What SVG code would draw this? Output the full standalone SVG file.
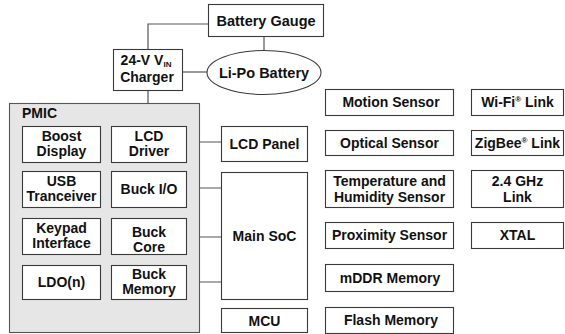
<svg xmlns="http://www.w3.org/2000/svg" width="565" height="334" viewBox="0 0 565 334">
<style>
.b{fill:#fff;stroke:#3a3a3a;stroke-width:1.1}
.p{fill:#e6e6e6;stroke:#555;stroke-width:1.1}
.c{fill:none;stroke:#555;stroke-width:1.2}
text{font-family:"Liberation Sans",Arial,sans-serif;font-weight:bold;font-size:14px;fill:#111;text-anchor:middle}
.sup{font-size:8px}
.sub{font-size:8px}
</style>
<rect width="565" height="334" fill="#fff"/>
<g id="connectors">
<polyline class="c" points="208,24 148,24 148,49"/>
<line class="c" x1="264" y1="36" x2="264" y2="50"/>
<line class="c" x1="182" y1="72" x2="207" y2="72"/>
<line class="c" x1="148" y1="90" x2="148" y2="103"/>
<line class="c" x1="186" y1="142" x2="221" y2="142"/>
<line class="c" x1="186" y1="188" x2="221" y2="188"/>
<line class="c" x1="186" y1="237" x2="221" y2="237"/>
<line class="c" x1="186" y1="282" x2="221" y2="282"/>
</g>
<g id="battery-gauge"><rect class="b" x="208.5" y="4.5" width="115" height="32"/><text x="266" y="25.5" style="font-size:14.5px">Battery Gauge</text></g>
<g id="charger"><rect class="b" x="113.5" y="49.5" width="69" height="41"/><text x="146" y="65">24-V V<tspan class="sub" dy="1.5">IN</tspan></text><text x="147" y="82">Charger</text></g>
<g id="li-po-battery"><ellipse class="b" cx="264" cy="72.5" rx="57" ry="22"/><text x="264" y="77.5" style="font-size:14.5px">Li-Po Battery</text></g>
<g id="pmic"><rect class="p" x="9.5" y="103.5" width="190" height="229"/><text x="22" y="118" style="text-anchor:start">PMIC</text>
<g id="boost-display"><rect class="b" x="22.5" y="126.5" width="78" height="36"/><text x="61.5" y="141">Boost</text><text x="61.5" y="156">Display</text></g>
<g id="lcd-driver"><rect class="b" x="111.5" y="126.5" width="75" height="36"/><text x="149" y="141">LCD</text><text x="149" y="156">Driver</text></g>
<g id="usb-tranceiver"><rect class="b" x="22.5" y="171.5" width="78" height="36"/><text x="61.5" y="186">USB</text><text x="61.5" y="201">Tranceiver</text></g>
<g id="buck-io"><rect class="b" x="111.5" y="171.5" width="75" height="36"/><text x="149" y="194">Buck I/O</text></g>
<g id="keypad-interface"><rect class="b" x="22.5" y="218.5" width="78" height="36"/><text x="61.5" y="233">Keypad</text><text x="61.5" y="248">Interface</text></g>
<g id="buck-core"><rect class="b" x="111.5" y="218.5" width="75" height="36"/><text x="149" y="237">Buck</text><text x="149" y="252">Core</text></g>
<g id="ldo"><rect class="b" x="22.5" y="265.5" width="78" height="34"/><text x="61.5" y="287">LDO(n)</text></g>
<g id="buck-memory"><rect class="b" x="111.5" y="265.5" width="75" height="34"/><text x="149" y="279">Buck</text><text x="149" y="294">Memory</text></g>
</g>
<g id="lcd-panel"><rect class="b" x="221.5" y="126.5" width="86" height="35"/><text x="264.5" y="149">LCD Panel</text></g>
<g id="main-soc"><rect class="b" x="221.5" y="172.5" width="86" height="127"/><text x="264.5" y="240.5">Main SoC</text></g>
<g id="mcu"><rect class="b" x="221.5" y="308.5" width="86" height="24"/><text x="264.5" y="325.5">MCU</text></g>
<g id="motion-sensor"><rect class="b" x="325.5" y="89.5" width="128" height="26"/><text x="391" y="107">Motion Sensor</text></g>
<g id="optical-sensor"><rect class="b" x="325.5" y="130.5" width="128" height="25"/><text x="389.5" y="148">Optical Sensor</text></g>
<g id="temp-humidity-sensor"><rect class="b" x="325.5" y="170.5" width="128" height="37"/><text x="389.5" y="186">Temperature and</text><text x="389.5" y="202">Humidity Sensor</text></g>
<g id="proximity-sensor"><rect class="b" x="325.5" y="222.5" width="128" height="26"/><text x="389.5" y="240">Proximity Sensor</text></g>
<g id="mddr-memory"><rect class="b" x="325.5" y="264.5" width="128" height="27"/><text x="390" y="283">mDDR Memory</text></g>
<g id="flash-memory"><rect class="b" x="325.5" y="307.5" width="128" height="26"/><text x="391" y="325">Flash Memory</text></g>
<g id="wifi-link"><rect class="b" x="471.5" y="89.5" width="92" height="26"/><text x="517.5" y="107">Wi-Fi<tspan class="sup" dy="-5">®</tspan><tspan dy="5"> Link</tspan></text></g>
<g id="zigbee-link"><rect class="b" x="471.5" y="130.5" width="92" height="25"/><text x="517.5" y="148">ZigBee<tspan class="sup" dy="-5">®</tspan><tspan dy="5"> Link</tspan></text></g>
<g id="ghz-link"><rect class="b" x="471.5" y="170.5" width="92" height="37"/><text x="517.5" y="186">2.4 GHz</text><text x="517.5" y="202">Link</text></g>
<g id="xtal"><rect class="b" x="471.5" y="222.5" width="92" height="26"/><text x="517.5" y="240">XTAL</text></g>
</svg>
